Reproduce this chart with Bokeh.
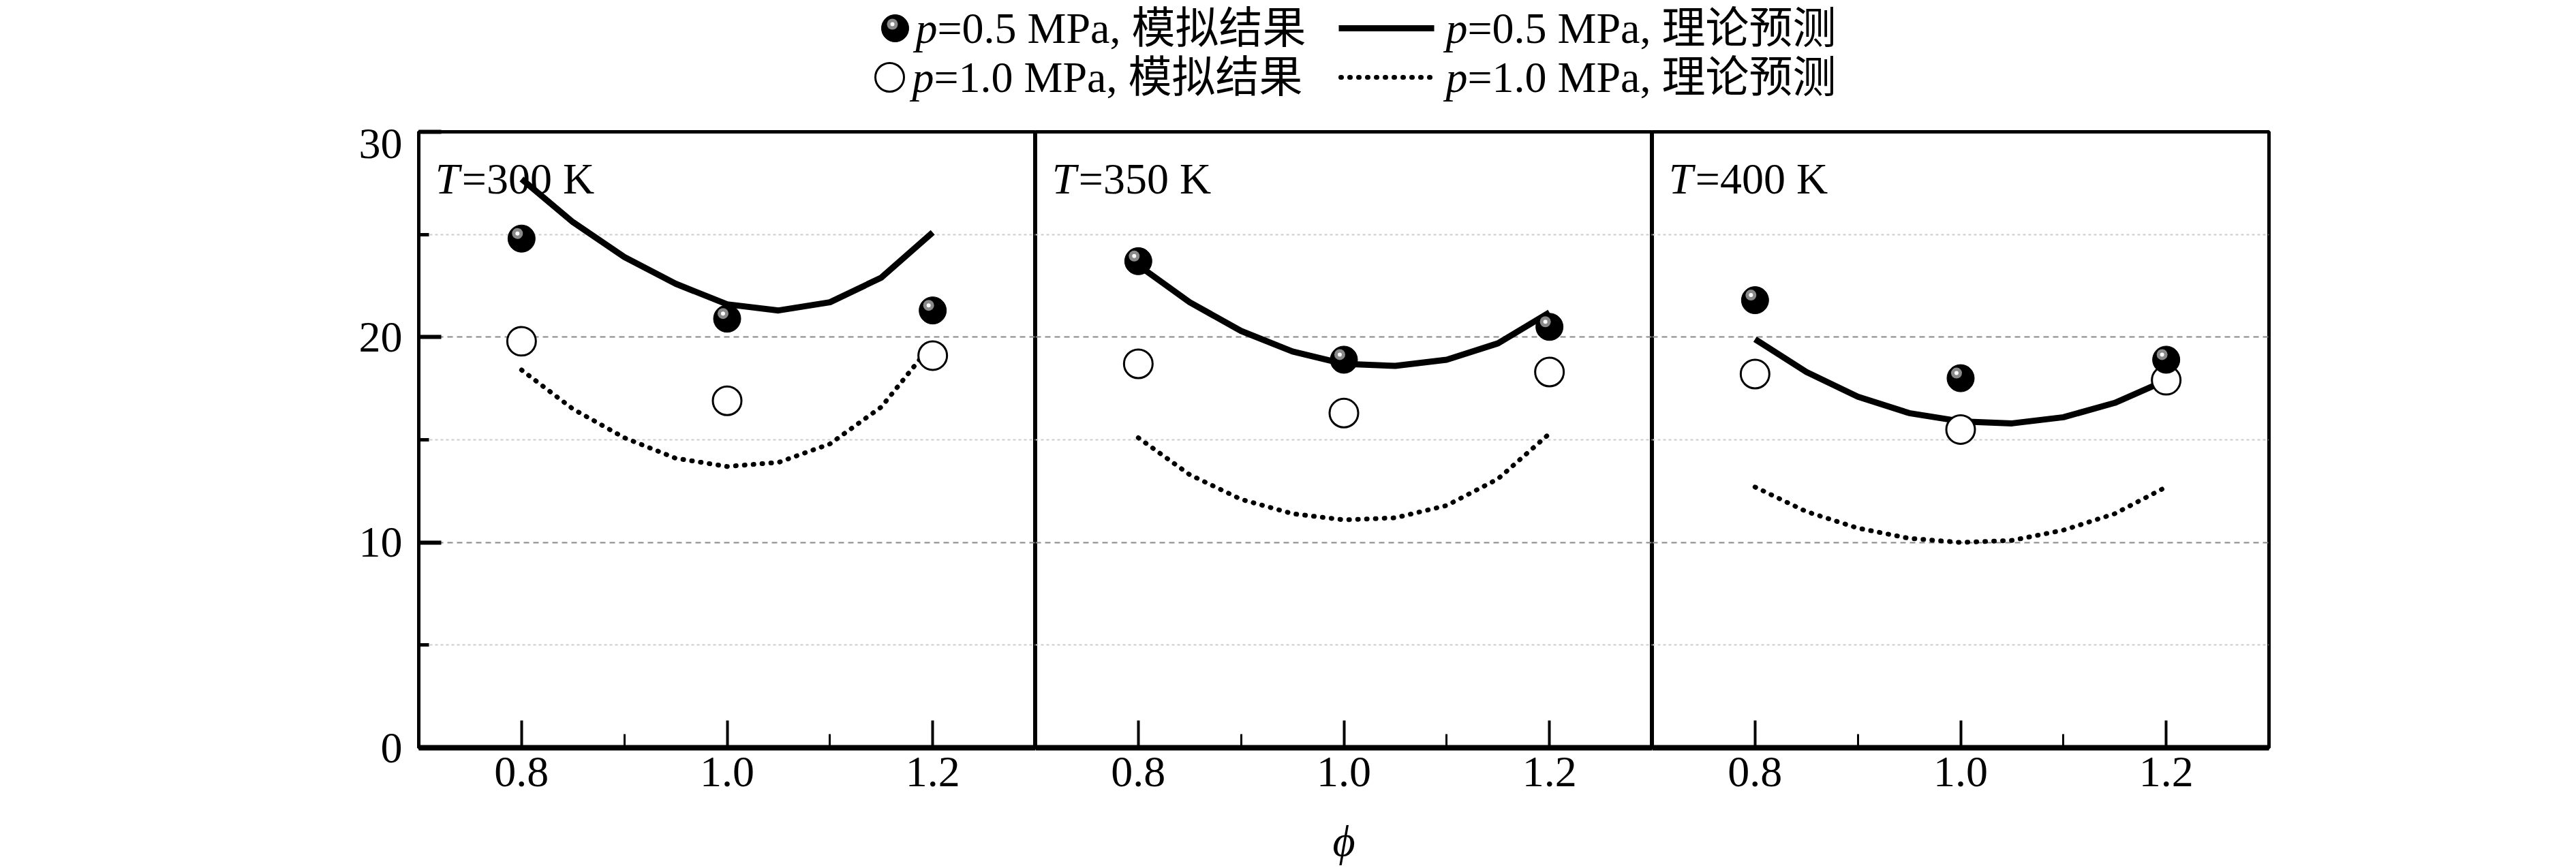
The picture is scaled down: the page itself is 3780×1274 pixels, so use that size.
import numpy as np
from bokeh.plotting import figure
from bokeh.layouts import column, row
from bokeh.models import FixedTicker, Label, Range1d
from bokeh.transform import dodge
from bokeh.core.properties import value
from bokeh.embed import file_html
from bokeh.resources import INLINE

temps = ["300", "350", "400"]
phi_pts = [0.8, 1.0, 1.2]
sim_05 = [[24.8, 20.9, 21.3], [23.7, 18.9, 20.5], [21.8, 18.0, 18.9]]
sim_10 = [[19.8, 16.9, 19.1], [18.7, 16.3, 18.3], [18.2, 15.5, 17.9]]
phi_curve = [0.8, 0.85, 0.9, 0.95, 1.0, 1.05, 1.1, 1.15, 1.2]
theo_05 = [[27.7, 25.6, 23.9, 22.6, 21.6, 21.3, 21.7, 22.9, 25.1],
           [23.5, 21.7, 20.3, 19.3, 18.7, 18.6, 18.9, 19.7, 21.2],
           [19.9, 18.3, 17.1, 16.3, 15.9, 15.8, 16.1, 16.8, 17.9]]
theo_10 = [[18.4, 16.5, 15.1, 14.1, 13.7, 13.9, 14.8, 16.6, 19.7],
           [15.1, 13.3, 12.1, 11.4, 11.1, 11.2, 11.8, 13.1, 15.3],
           [12.7, 11.5, 10.7, 10.2, 10.0, 10.1, 10.6, 11.4, 12.7]]
x_ticks = [0.8, 1.0, 1.2]
x_tick_labels = ["0.8", "1.0", "1.2"]
y_ticks = [0, 10, 20, 30]

SERIF = "Liberation Serif"
MIX = "Liberation Serif, 'Noto Sans CJK SC'"
FS = "64px"

LH = 189
B = 110
H = 4 + 904 + B
PW = 905
LW = 440


def blank(p):
    p.axis.visible = False
    p.grid.visible = False
    p.outline_line_color = None
    p.background_fill_color = "white"
    p.border_fill_color = "white"


# left strip with the rotated y-axis title
lf = figure(width=LW, height=H, x_range=Range1d(0, LW), y_range=Range1d(H, 0),
            output_backend="svg", toolbar_location=None, min_border=0)
blank(lf)
lf.text([495], [554], text=["R"], angle=np.pi / 2, text_font=value(SERIF), text_font_style="italic",
        text_font_size="66px", text_baseline="alphabetic")
lf.text([508], [514], text=["cr"], angle=np.pi / 2, text_font=value(SERIF),
        text_font_size="44px", text_baseline="alphabetic")
lf.text([495], [481], text=["/mm"], angle=np.pi / 2, text_font=value(SERIF),
        text_font_size="66px", text_baseline="alphabetic")

panels = []
for i, T in enumerate(temps):
    left = 614 - LW if i == 0 else 0
    right = 3764 - 614 - 3 * PW if i == 2 else 0
    p = figure(width=PW + left + right, height=H, x_range=Range1d(0.7, 1.3), y_range=Range1d(0, 30),
               output_backend="svg", toolbar_location=None,
               min_border_left=left, min_border_right=right, min_border_top=4, min_border_bottom=B,
               y_axis_location="left" if i == 0 else None)
    p.outline_line_color = "black"
    p.outline_line_width = 5
    p.background_fill_color = "white"
    p.border_fill_color = "white"
    p.xgrid.visible = False
    p.ygrid.ticker = FixedTicker(ticks=[10, 20], minor_ticks=[5, 15, 25])
    p.ygrid.grid_line_color = "#888888"
    p.ygrid.grid_line_dash = "8 6"
    p.ygrid.grid_line_width = 2
    p.ygrid.minor_grid_line_color = "#cccccc"
    p.ygrid.minor_grid_line_dash = "4 4"
    p.ygrid.minor_grid_line_width = 2

    xa = p.xaxis[0]
    xa.ticker = FixedTicker(ticks=x_ticks, minor_ticks=[0.9, 1.1])
    xa.major_label_overrides = dict(zip(x_ticks, x_tick_labels))
    xa.major_label_text_font = SERIF
    xa.major_label_text_font_size = FS
    xa.major_label_text_color = "black"
    xa.major_label_standoff = 14
    xa.major_tick_in = 40
    xa.major_tick_out = 0
    xa.minor_tick_in = 20
    xa.minor_tick_out = 0
    xa.major_tick_line_width = 4
    xa.minor_tick_line_width = 3
    xa.major_tick_line_color = "black"
    xa.axis_line_width = 8
    xa.axis_line_color = "black"

    if i == 0:
        ya = p.yaxis[0]
        ya.ticker = FixedTicker(ticks=y_ticks, minor_ticks=[5, 15, 25])
        ya.major_label_text_font = SERIF
        ya.major_label_text_font_size = FS
        ya.major_label_text_color = "black"
        ya.major_label_standoff = 24
        ya.major_tick_in = 33
        ya.major_tick_out = 0
        ya.minor_tick_in = 15
        ya.minor_tick_out = 0
        ya.major_tick_line_width = 6
        ya.minor_tick_line_width = 5
        ya.axis_line_width = 5

    p.add_layout(Label(x=0.716, y=27.7, text="T", text_font=SERIF, text_font_style="italic",
                       text_font_size=FS, text_baseline="alphabetic", text_color="black"))
    p.add_layout(Label(x=0.742, y=27.7, text="=" + T + " K", text_font=SERIF,
                       text_font_size=FS, text_baseline="alphabetic", text_color="black"))

    p.line(phi_curve, theo_05[i], line_color="black", line_width=9, line_join="round")
    p.line(phi_curve, theo_10[i], line_color="black", line_width=7, line_dash="1 12", line_cap="round")
    p.scatter(phi_pts, sim_10[i], size=42, fill_color="white", line_color="black", line_width=3)
    src = dict(x=phi_pts, y=sim_05[i])
    p.scatter(phi_pts, sim_05[i], size=40, fill_color="black", line_color="black")
    p.scatter(x=dodge("x", -0.004, range=p.x_range), y=dodge("y", 0.25, range=p.y_range), source=src,
              size=16, fill_color="#8a8a8a", line_color=None)
    p.scatter(x=dodge("x", -0.004, range=p.x_range), y=dodge("y", 0.25, range=p.y_range), source=src,
              size=6, fill_color="white", line_color=None)
    panels.append(p)

# legend strip
leg = figure(width=3764, height=LH, x_range=Range1d(0, 3764), y_range=Range1d(0, LH),
             output_backend="svg", toolbar_location=None, min_border=0)
blank(leg)
y1, y2 = LH - 41, LH - 113
leg.scatter([1313], [y1], size=40, fill_color="black", line_color="black")
leg.scatter([1309], [y1 + 6], size=16, fill_color="#8a8a8a", line_color=None)
leg.scatter([1309], [y1 + 6], size=6, fill_color="white", line_color=None)
leg.scatter([1305], [y2], size=42, fill_color="white", line_color="black", line_width=3)
leg.line([1964, 2104], [y1, y1], line_color="black", line_width=9)
leg.line([1967, 2101], [y2, y2], line_color="black", line_width=7, line_dash="1 12", line_cap="round")
texts = [(1343, y1, "=0.5 MPa, 模拟结果"), (2121, y1, "=0.5 MPa, 理论预测"),
         (1338, y2, "=1.0 MPa, 模拟结果"), (2121, y2, "=1.0 MPa, 理论预测")]
for x, y, t in texts:
    leg.text([x], [y], text=["p"], text_font=value(SERIF), text_font_style="italic",
             text_font_size=FS, text_baseline="middle")
    leg.text([x + 32], [y], text=[t], text_font=value(MIX), text_font_size=FS, text_baseline="middle")

# bottom strip with x-axis title
BH = 66
bot = figure(width=3764, height=BH, x_range=Range1d(0, 3764), y_range=Range1d(BH, 0),
             output_backend="svg", toolbar_location=None, min_border=0)
blank(bot)
bot.text([614 + PW + PW / 2], [27], text=["ϕ"], text_font=value(SERIF), text_font_style="italic",
         text_font_size=FS, text_align="center", text_baseline="middle")

layout = column(leg, row(lf, *panels, spacing=0), bot, spacing=0)
open("out.html", "w").write(file_html(layout, INLINE))
